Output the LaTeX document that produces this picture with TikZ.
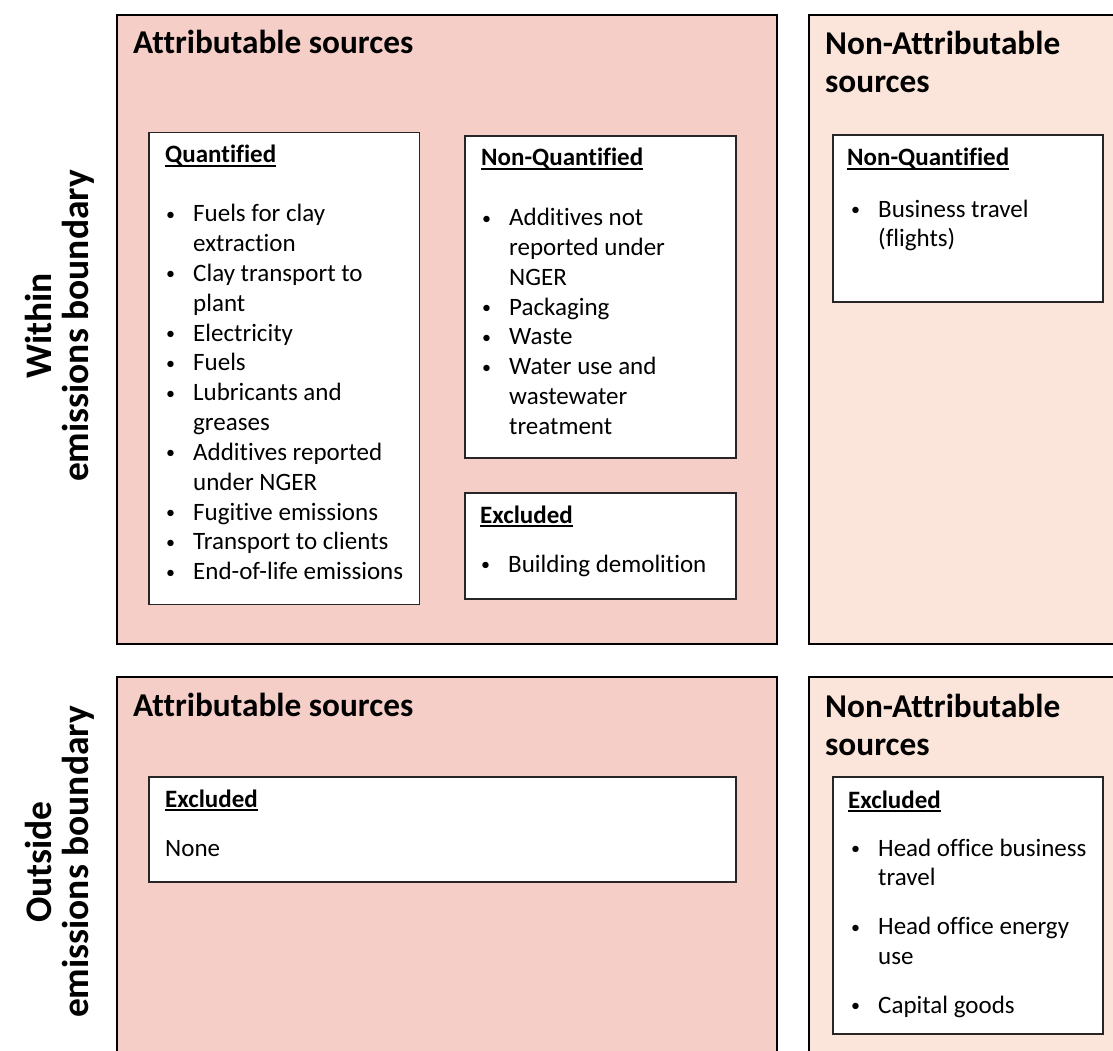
\documentclass[tikz,border=0pt]{standalone}
\usepackage{fontspec}
\setmainfont{Carlito}[Ligatures=CommonOff]
\definecolor{attrfill}{HTML}{F6CEC8}
\definecolor{nonattrfill}{HTML}{FBE5DA}
\definecolor{boxline}{HTML}{262626}
% bold heading with a close underline
\newcommand\uhead[1]{\setbox0=\hbox{\bfseries #1}\rlap{\rule[-3.8pt]{\wd0}{1.8pt}}\box0}
% small list bullet
\newcommand\bul{\raisebox{1.6pt}{\fontsize{18}{18}\selectfont •}}
\begin{document}
\begin{tikzpicture}[x=1pt,y=-1pt,
  outerbox/.style={draw=black, line width=1.5pt, anchor=north west, inner sep=0pt, outer sep=0pt},
  innerbox/.style={draw=boxline, line width=1.3pt, fill=white, anchor=north west, inner sep=0pt, outer sep=0pt},
  title/.style={anchor=base west, inner sep=0pt, font=\fontsize{33.3}{38}\selectfont\bfseries},
  head/.style={anchor=base west, inner sep=0pt, font=\fontsize{25}{29.8}\selectfont},
  body/.style={anchor=base west, inner sep=0pt, font=\fontsize{25}{29.8}\selectfont},
  side/.style={rotate=90, align=center, inner sep=0pt, font=\fontsize{37.5}{37}\selectfont\bfseries}]
\clip (0,0) rectangle (1113,1051);
\fill[white] (0,0) rectangle (1113,1051);

% row labels
\node[side] (within) at (60,326) {Within\\emissions boundary};
\node[side] (outside) at (60,862) {Outside\\emissions boundary};

% category panels
\node[outerbox, fill=attrfill, minimum width=660, minimum height=629] (wattr) at (117,15) {};
\node[outerbox, fill=nonattrfill, minimum width=340, minimum height=629] (wnon) at (809,15) {};
\node[outerbox, fill=attrfill, minimum width=660, minimum height=420] (oattr) at (117,677) {};
\node[outerbox, fill=nonattrfill, minimum width=340, minimum height=420] (onon) at (809,677) {};

\node[title] (wattrt) at (133,54) {Attributable sources};
\node[title] (wnont) at (825,55) {\begin{tabular}[t]{@{}l@{}}Non-Attributable\\sources\end{tabular}};
\node[title] (oattrt) at (133,716) {Attributable sources};
\node[title] (ononT) at (825,717) {\begin{tabular}[t]{@{}l@{}}Non-Attributable\\sources\end{tabular}};

% inner boxes
\node[innerbox, minimum width=270.5, minimum height=472] (quant) at (149,132.7) {};
\node[innerbox, minimum width=271, minimum height=322] (nonq) at (465,136) {};
\node[innerbox, minimum width=271, minimum height=106] (excl) at (465,493) {};
\node[innerbox, minimum width=270, minimum height=167] (nonqr) at (833,135) {};
\node[innerbox, minimum width=587, minimum height=105] (exclo) at (149,777) {};
\node[innerbox, minimum width=270, minimum height=257] (exclr) at (833,777) {};

% within boundary, attributable
\node[head] (quanth) at (165,163) {\uhead{Quantified}};
\node[body] (quantl) at (166,222) {\begin{tabular}[t]{@{}p{27pt}@{}l@{}}
\bul& Fuels for clay\\
 & extraction\\
\bul& Clay transport to\\
 & plant\\
\bul& Electricity\\
\bul& Fuels\\
\bul& Lubricants and\\
 & greases\\
\bul& Additives reported\\
 & under NGER\\
\bul& Fugitive emissions\\
\bul& Transport to clients\\
\bul& End-of-life emissions
\end{tabular}};

\node[head] (nonqh) at (481,166) {\uhead{Non-Quantified}};
\node[body] (nonql) at (482,225.7) {\begin{tabular}[t]{@{}p{27pt}@{}l@{}}
\bul& Additives not\\
 & reported under\\
 & NGER\\
\bul& Packaging\\
\bul& Waste\\
\bul& Water use and\\
 & wastewater\\
 & treatment
\end{tabular}};

\node[head] (exclh) at (480,523) {\uhead{Excluded}};
\node[body] (excll) at (481,572) {\begin{tabular}[t]{@{}p{27pt}@{}l@{}}
\bul& Building demolition
\end{tabular}};

% within boundary, non-attributable
\node[head] (nonqrh) at (847,166) {\uhead{Non-Quantified}};
\node[body] (nonqrl) at (851,217) {\begin{tabular}[t]{@{}p{27pt}@{}l@{}}
\bul& Business travel\\
 & (flights)
\end{tabular}};

% outside boundary
\node[head] (exclohh) at (165,807) {\uhead{Excluded}};
\node[body] (exclol) at (165,856) {None};

\node[head] (exclrh) at (848,808) {\uhead{Excluded}};
\node[body] (exclrl) at (851,856) {\begin{tabular}[t]{@{}p{27pt}@{}l@{}}
\bul& Head office business\\
 & travel\\[19pt]
\bul& Head office energy\\
 & use\\[19pt]
\bul& Capital goods
\end{tabular}};
\end{tikzpicture}
\end{document}
